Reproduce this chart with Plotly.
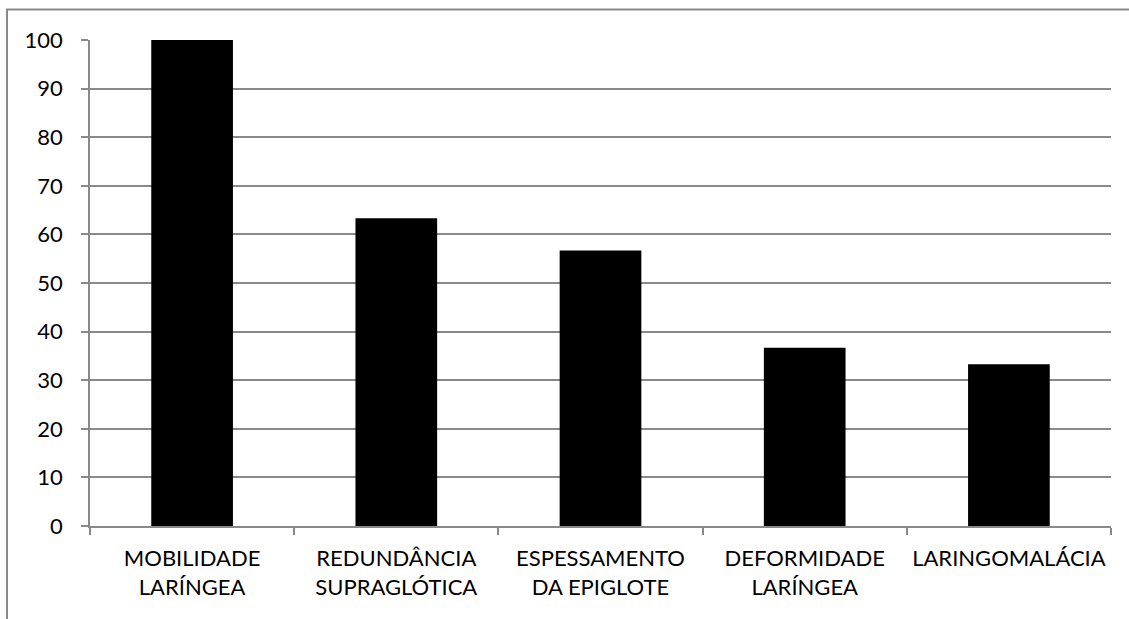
import plotly.graph_objects as go

categories = ["MOBILIDADE<br>LARÍNGEA", "REDUNDÂNCIA<br>SUPRAGLÓTICA", "ESPESSAMENTO<br>DA EPIGLOTE",
              "DEFORMIDADE<br>LARÍNGEA", "LARINGOMALÁCIA"]
values = [100, 63.3, 56.7, 36.7, 33.3]
y_ticks = [0, 10, 20, 30, 40, 50, 60, 70, 80, 90, 100]

W, H = 1129, 619
ml, mr, mt, mb = 90, 18, 40, 93
pw, ph = W - ml - mr, H - mt - mb

fig = go.Figure(go.Bar(x=categories, y=values, marker=dict(color="#000000", line=dict(width=0)), width=0.4))

gray = "#898989"
font = dict(family="Lato, 'Open Sans', sans-serif", size=22, color="#000000")

fig.update_layout(
    width=W, height=H,
    margin=dict(l=ml, r=mr, t=mt, b=mb),
    paper_bgcolor="white", plot_bgcolor="white",
    showlegend=False,
    font=font,
    xaxis=dict(showline=True, linecolor=gray, linewidth=1.5, ticks="outside", tickson="boundaries",
               ticklen=7, tickcolor=gray, tickwidth=1.5, showgrid=False, tickfont=font, ticklabelstandoff=12),
    yaxis=dict(range=[0, 100], tickvals=y_ticks, showline=True, linecolor=gray, linewidth=1.5,
               ticks="outside", ticklen=7, tickcolor=gray, tickwidth=1.5,
               showgrid=True, gridcolor=gray, gridwidth=1.5, zeroline=False, tickfont=font,
               ticklabelstandoff=14),
    shapes=[dict(type="rect", xref="paper", yref="paper",
                 x0=(7 - ml) / pw, x1=1.2, y0=-0.5, y1=(H - mb - 9.5) / ph,
                 line=dict(color=gray, width=2), fillcolor="rgba(0,0,0,0)", layer="below")],
)

fig.write_html("out.html")
